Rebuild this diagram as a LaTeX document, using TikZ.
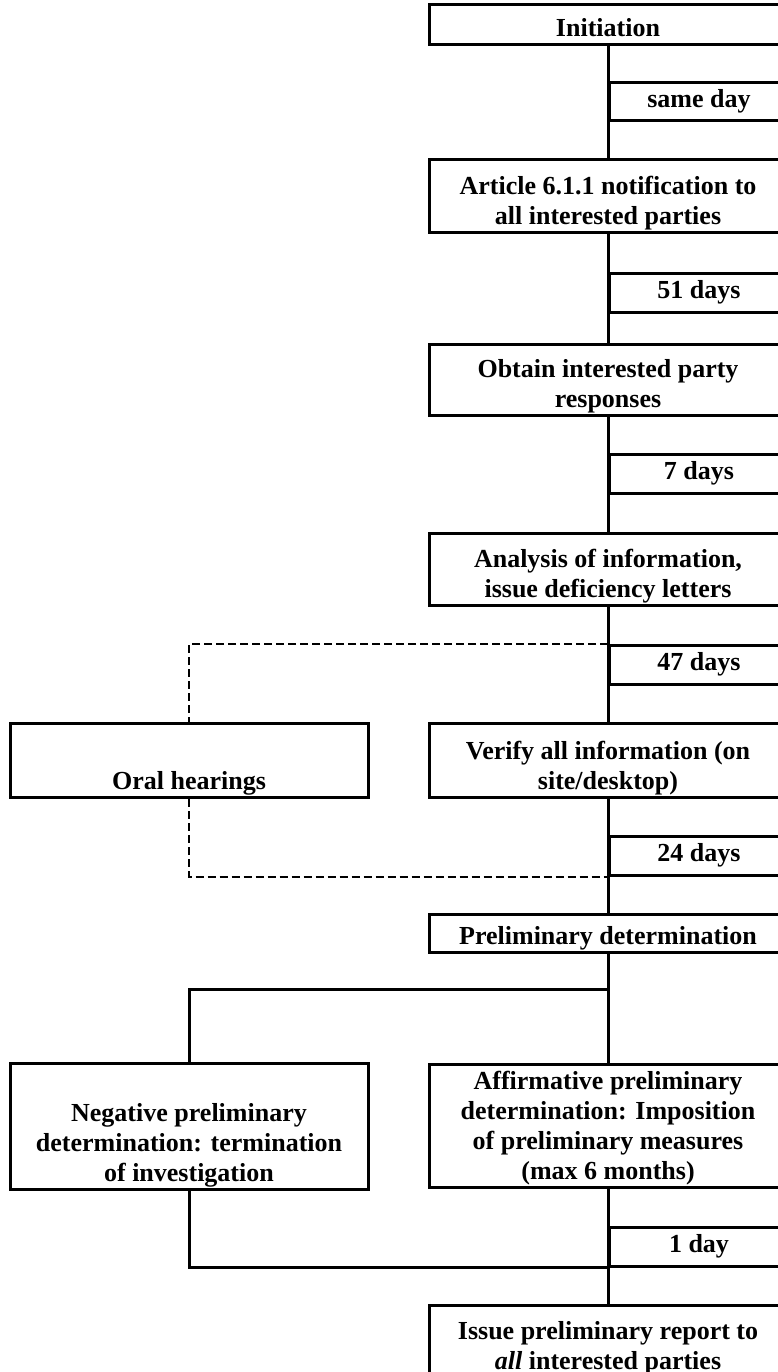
\documentclass[tikz,border=0pt]{standalone}
\usepackage{fontspec}
\setmainfont{Liberation Serif}

\begin{document}
\begin{tikzpicture}[
  x=1pt, y=-1pt,
  stage/.style={draw, line width=3pt, minimum width=358pt, inner sep=0pt, anchor=north,
    text depth=8pt, text height=#1, align=center, font=\fontsize{26}{30}\selectfont\bfseries},
  daybox/.style={draw, line width=3pt, minimum width=179pt, minimum height=38.5pt, inner sep=0pt,
    anchor=north west, font=\fontsize{26}{30}\selectfont\bfseries},
  link/.style={line width=3pt},
  optlink/.style={line width=2pt, dash pattern=on 8pt off 4pt}
]
  \clip (0,0) rectangle (778,1372);
  \fill[white] (0,0) rectangle (778,1372);

  \node[stage=32pt] (init) at (608,3) {Initiation};
  \node[daybox] (sameday) at (608,81) {same day};
  \node[stage=65pt] (notify) at (608,158) {Article 6.1.1 notification to\\all interested parties};
  \node[daybox] (d51) at (608,272) {51 days};
  \node[stage=63pt] (obtain) at (608,343) {Obtain interested party\\responses};
  \node[daybox] (d7) at (608,453) {7 days};
  \node[stage=64pt] (analysis) at (608,532) {Analysis of information,\\issue deficiency letters};
  \node[daybox] (d47) at (608,644) {47 days};
  \node[stage=66pt] (verify) at (608,722) {Verify all information (on\\site/desktop)};
  \node[stage=66pt] (oral) at (189,722) {Oral hearings};
  \node[daybox] (d24) at (608,835) {24 days};
  \node[stage=30pt] (prelim) at (608,913) {Preliminary determination};
  \node[stage=118pt] (negative) at (189,1062) {Negative preliminary\\determination: termination\\of investigation};
  \node[stage=115pt] (affirm) at (608,1063) {Affirmative preliminary\\determination: Imposition\\of preliminary measures\\(max 6 months)};
  \node[daybox] (d1) at (608,1226) {1 day};
  \node[stage=64pt] (report) at (608,1304) {Issue preliminary report to\\\textit{all} interested parties};

  \coordinate (split) at (608,989);

  \draw[link] (init.south) -- (notify.north);
  \draw[link] (notify.south) -- (obtain.north);
  \draw[link] (obtain.south) -- (analysis.north);
  \draw[link] (analysis.south) -- (verify.north);
  \draw[link] (verify.south) -- (prelim.north);
  \draw[link] (prelim.south) -- (affirm.north);
  \draw[link] (affirm.south) -- (report.north);
  \draw[link] (split) -| (negative.north);
  \draw[link] (negative.south) |- (d1.south west);
  \draw[optlink] (d47.north west) -| (oral.north);
  \draw[optlink] (oral.south) |- (d24.south west);
\end{tikzpicture}
\end{document}
